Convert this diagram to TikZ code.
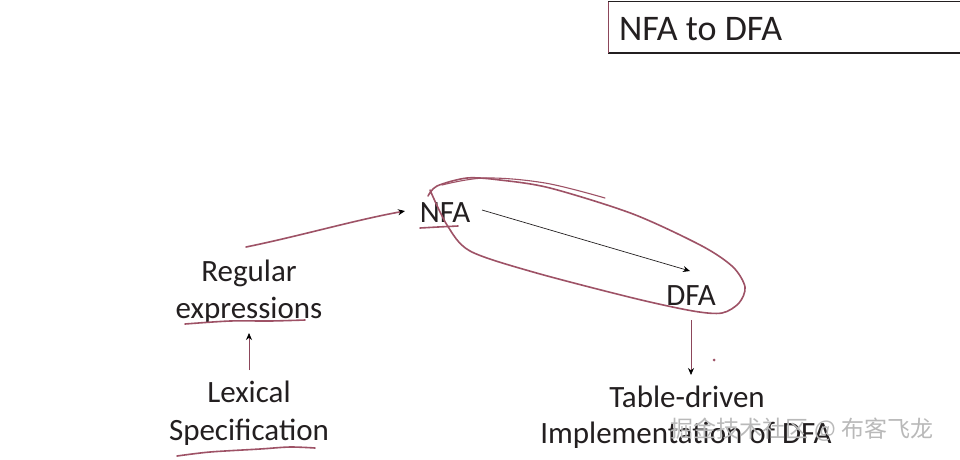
\documentclass[tikz,border=0pt]{standalone}
\usepackage{fontspec}
\setmainfont{Carlito}
\newfontfamily\cjkfont{Noto Sans CJK SC}
\usetikzlibrary{arrows.meta}
\definecolor{ink}{RGB}{35,31,32}
\definecolor{pen}{RGB}{158,82,102}
\definecolor{thinline}{RGB}{140,70,90}
\tikzset{
  txt/.style={font=\fontsize{31}{37}\selectfont, text=ink, inner sep=0pt, anchor=base},
  ttl/.style={font=\fontsize{36}{40}\selectfont, text=ink, inner sep=0pt, anchor=base west},
  arr/.style={-{Stealth[length=7pt,width=6pt,black]}, line width=0.7pt},
  penline/.style={draw=pen, line width=1.6pt, line cap=round, line join=round},
  wm/.style={font=\cjkfont\fontsize{23}{26}\selectfont, text=gray!55, inner sep=0pt}
}
\begin{document}
\begin{tikzpicture}[x=1pt,y=-1pt]
\useasboundingbox (0,0) rectangle (960,459);
\fill[white] (0,0) rectangle (960,459);
% title box
\draw[ink, line width=1.2pt] (608,1.5) -- (962,1.5);
\draw[ink, line width=1.2pt] (608,53) -- (962,53);
\draw[thinline, line width=1pt] (608,1.5) -- (608,53);
\node[ttl] (title) at (619,40) {NFA to DFA};
% text nodes
\node[txt] (nfa) at (445,222) {NFA};
\node[txt] (dfa) at (691,305) {DFA};
\node[txt] (re1) at (249,281) {Regular};
\node[txt] (re2) at (249,318) {expressions};
\node[txt] (lx1) at (249,402) {Lexical};
\node[txt] (lx2) at (249,440) {Specification};
\node[txt] (tb1) at (687,407) {Table-driven};
\node[txt] (tb2) at (686,443) {Implementation of DFA};
% connectors
\coordinate (nfaS) at (482,210);
\coordinate (dfaE) at (690,271);
\draw[arr, ink] (nfaS) -- (dfaE);
\draw[arr, thinline] (lx1.north |- 0,370) -- (re2.south |- 0,333);
\draw[arr, thinline] (dfa.south |- 0,320) -- (dfa.south |- 0,375);
% pen annotations
\coordinate (reS) at (246,247);
\coordinate (reE) at (405,211);
\draw[penline, -{Stealth[length=7pt,width=6pt,black]}] (reS) .. controls (300,236) and (355,220) .. (reE);
\draw[penline] plot[smooth, tension=0.5] coordinates {(430,190) (447,225) (470,251) (533,272) (633,298) (693,311) (722,313) (739,303) (745,287) (733,267) (702,246) (633,214) (550,188) (500,180) (467,178) (437,186) (428,196)};
\draw[penline, line width=1.1pt] plot[smooth, tension=0.6] coordinates {(442,185) (485,178) (545,183) (605,198)};
\draw[penline] plot[smooth] coordinates {(420,228) (438,227) (458,226)};
\draw[penline] plot[smooth] coordinates {(185,324) (230,321) (270,321) (305,320)};
\draw[penline] plot[smooth] coordinates {(177,456) (210,452) (260,449) (290,447) (315,448)};
\fill[pen] (714,360) circle (1.5pt);
% watermark
\node[wm] (wmark) at (802,430) {掘金技术社区 @ 布客飞龙};
\end{tikzpicture}
\end{document}
